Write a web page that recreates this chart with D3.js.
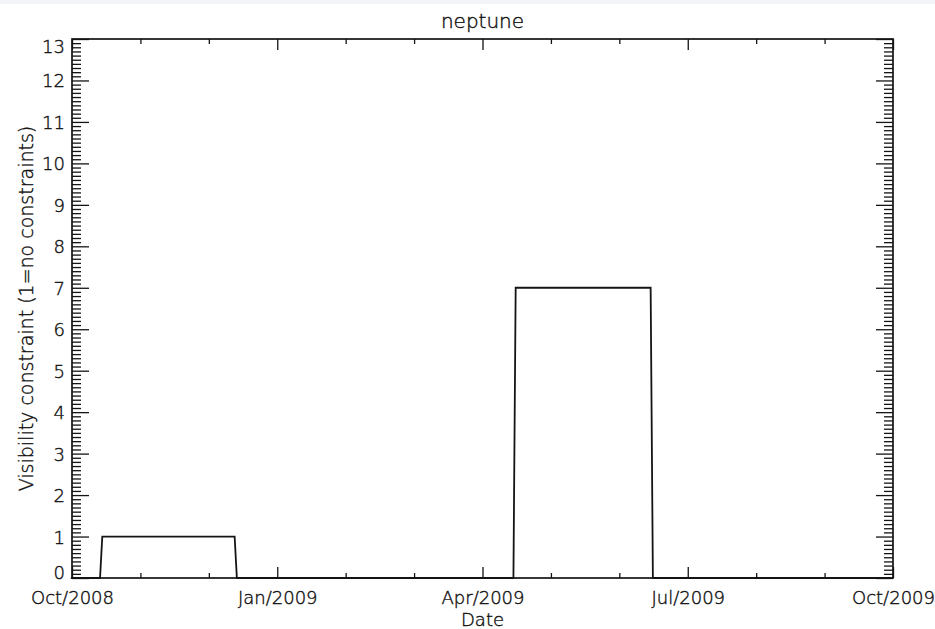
<!DOCTYPE html>
<html>
<head>
<meta charset="utf-8">
<script src="https://cdn.jsdelivr.net/npm/d3@7"></script>
<style>
  html, body { margin: 0; padding: 0; background: #fff; }
  svg text { font-family: "DejaVu Sans", sans-serif; font-weight: 200; fill: #111; stroke: #111; stroke-width: 0.4px; }
</style>
</head>
<body>
<svg id="chart" width="935" height="629"></svg>
<script>
// Visibility constraint of Neptune over one observing year
const chartTitle = "neptune";
const xTitle = "Date";
const yTitle = "Visibility constraint (1=no constraints)";

// Breakpoints of the constraint curve (daily samples where the value changes)
const sampleDates = ["2008-10-01", "2008-10-14", "2008-10-15", "2008-12-13", "2008-12-14",
                     "2009-04-16", "2009-04-17", "2009-06-16", "2009-06-17", "2009-10-01"];
const constraintValues = [0, 0, 1, 1, 0, 0, 7, 7, 0, 0];

// Axis ticks (x in decimal years)
const xTickValues = [2008.75, 2009.0, 2009.25, 2009.5, 2009.75];
const xTickLabels = ["Oct/2008", "Jan/2009", "Apr/2009", "Jul/2009", "Oct/2009"];
const xMinorStep = 1 / 12;
const yTickValues = [0, 1, 2, 3, 4, 5, 6, 7, 8, 9, 10, 11, 12, 13];
const yMinorStep = 0.1;

const svg = d3.select("#chart");
const W = 935, H = 629;
const plot = { left: 72, right: 893, top: 39, bottom: 578 };
const ink = "#141414";

svg.append("rect").attr("width", W).attr("height", 4).attr("fill", "#f2f4f7");

function decimalYear(s) {
  const d = new Date(s + "T00:00:00Z");
  const y = d.getUTCFullYear();
  const a = Date.UTC(y, 0, 1), b = Date.UTC(y + 1, 0, 1);
  return y + (d - a) / (b - a);
}

const x = d3.scaleLinear().domain([2008.75, 2009.75]).range([plot.left, plot.right]);
const y = d3.scaleLinear().domain([0, 13]).range([plot.bottom, plot.top]);

const xMinor = d3.range(0, 13).map(k => 2008.75 + k * xMinorStep)
  .filter(v => !xTickValues.some(t => Math.abs(t - v) < 1e-6));
const yMinor = d3.range(0, 131).map(k => k * yMinorStep)
  .filter(v => Math.abs(v - Math.round(v)) > 1e-6);

function styleAxis(g) {
  g.select(".domain").remove();
  g.selectAll("line").attr("stroke", ink).attr("stroke-width", 1.3);
  g.selectAll("text").attr("font-size", 18).attr("fill", "#111");
}

// bottom axis
svg.append("g").attr("transform", `translate(0,${plot.bottom})`)
  .call(d3.axisBottom(x).tickValues(xTickValues).tickFormat((d, i) => xTickLabels[i])
    .tickSizeInner(-11).tickSizeOuter(0).tickPadding(13))
  .call(styleAxis);
svg.append("g").attr("transform", `translate(0,${plot.bottom})`)
  .call(d3.axisBottom(x).tickValues(xMinor).tickFormat("").tickSizeInner(-5).tickSizeOuter(0))
  .call(styleAxis);

// top axis (ticks only)
svg.append("g").attr("transform", `translate(0,${plot.top})`)
  .call(d3.axisTop(x).tickValues(xTickValues).tickFormat("").tickSizeInner(-11).tickSizeOuter(0))
  .call(styleAxis);
svg.append("g").attr("transform", `translate(0,${plot.top})`)
  .call(d3.axisTop(x).tickValues(xMinor).tickFormat("").tickSizeInner(-5).tickSizeOuter(0))
  .call(styleAxis);

// left axis
const yAxisG = svg.append("g").attr("transform", `translate(${plot.left},0)`)
  .call(d3.axisLeft(y).tickValues(yTickValues).tickFormat(d3.format("d"))
    .tickSizeInner(-17).tickSizeOuter(0).tickPadding(7))
  .call(styleAxis);
// keep the end labels inside the axis span
yAxisG.selectAll(".tick text")
  .attr("dy", d => d === 0 ? "0em" : d === 13 ? "0.73em" : "0.36em");
svg.append("g").attr("transform", `translate(${plot.left},0)`)
  .call(d3.axisLeft(y).tickValues(yMinor).tickFormat("").tickSizeInner(-9).tickSizeOuter(0))
  .call(styleAxis);

// right axis (ticks only)
svg.append("g").attr("transform", `translate(${plot.right},0)`)
  .call(d3.axisRight(y).tickValues(yTickValues).tickFormat("").tickSizeInner(-17).tickSizeOuter(0))
  .call(styleAxis);
svg.append("g").attr("transform", `translate(${plot.right},0)`)
  .call(d3.axisRight(y).tickValues(yMinor).tickFormat("").tickSizeInner(-9).tickSizeOuter(0))
  .call(styleAxis);

// frame
svg.append("rect")
  .attr("x", plot.left).attr("y", plot.top)
  .attr("width", plot.right - plot.left).attr("height", plot.bottom - plot.top)
  .attr("fill", "none").attr("stroke", ink).attr("stroke-width", 1.7);

// data curve
const series = sampleDates.map((s, i) => ({ t: decimalYear(s), v: constraintValues[i] }));
svg.append("path")
  .datum(series)
  .attr("fill", "none").attr("stroke", ink).attr("stroke-width", 1.8)
  .attr("d", d3.line().x(d => x(d.t)).y(d => y(d.v)));

// titles
svg.append("text")
  .attr("x", (plot.left + plot.right) / 2).attr("y", 28)
  .attr("text-anchor", "middle").attr("font-size", 20)
  .text(chartTitle);
svg.append("text")
  .attr("x", (plot.left + plot.right) / 2).attr("y", 626)
  .attr("text-anchor", "middle").attr("font-size", 18)
  .text(xTitle);
svg.append("text")
  .attr("transform", `translate(33,${(plot.top + plot.bottom) / 2}) rotate(-90)`)
  .attr("text-anchor", "middle").attr("font-size", 19)
  .text(yTitle);
</script>
</body>
</html>
